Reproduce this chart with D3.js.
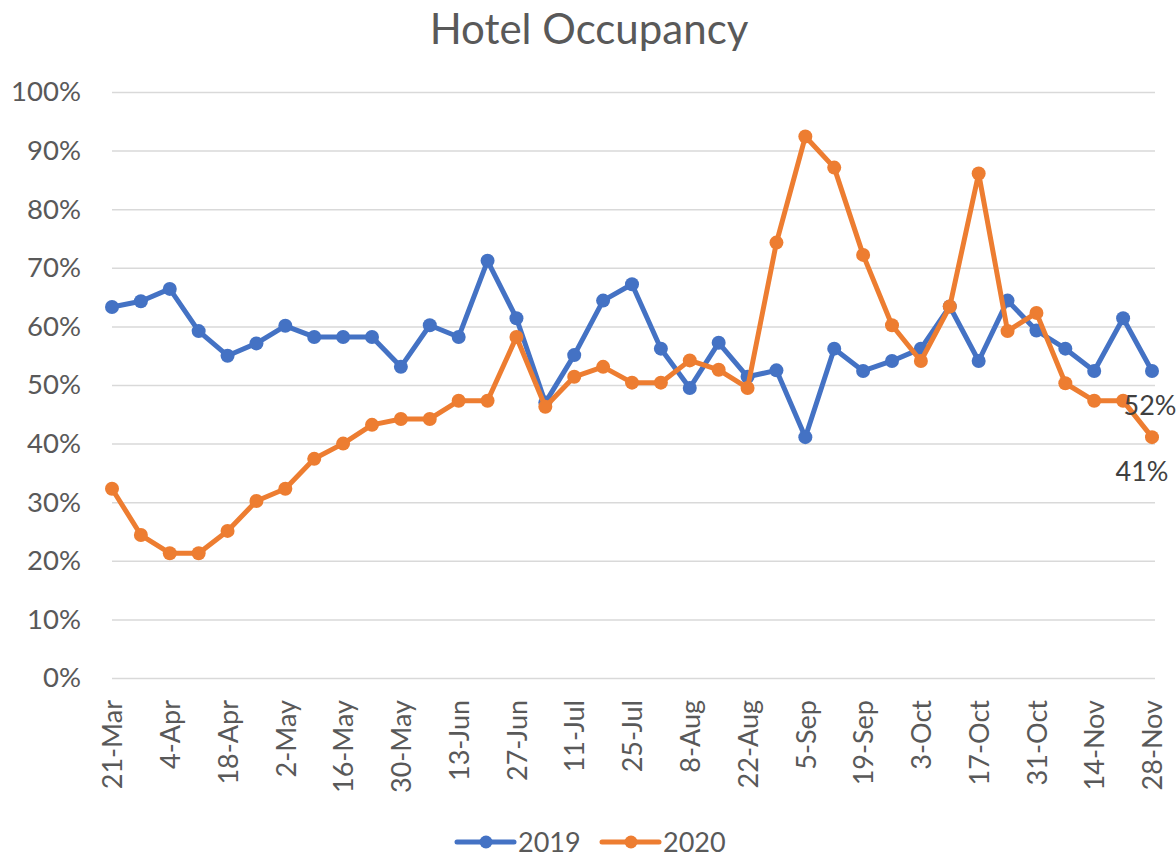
<!DOCTYPE html>
<html>
<head>
<meta charset="utf-8">
<script src="https://cdn.jsdelivr.net/npm/d3@7"></script>
<style>
  html, body { margin: 0; padding: 0; background: #fff; }
  #chart { width: 1176px; height: 857px; }
</style>
</head>
<body>
<div id="chart"></div>
<script>
// weekly dates, 21-Mar .. 28-Nov
const weeks = [
    "21-Mar", "28-Mar", "4-Apr", "11-Apr", "18-Apr", "25-Apr", "2-May", "9-May",
    "16-May", "23-May", "30-May", "6-Jun", "13-Jun", "20-Jun", "27-Jun", "4-Jul",
    "11-Jul", "18-Jul", "25-Jul", "1-Aug", "8-Aug", "15-Aug", "22-Aug", "29-Aug",
    "5-Sep", "12-Sep", "19-Sep", "26-Sep", "3-Oct", "10-Oct", "17-Oct", "24-Oct",
    "31-Oct", "7-Nov", "14-Nov", "21-Nov", "28-Nov"
];

// only every other week gets a label
const xTickLabels = weeks.filter((d, i) => i % 2 === 0);

const yTicks = [0, 0.1, 0.2, 0.3, 0.4, 0.5, 0.6, 0.7, 0.8, 0.9, 1.0];

const occupancy2019 = [
    0.633, 0.643, 0.664, 0.592, 0.550, 0.571, 0.601, 0.582, 0.582, 0.582,
    0.531, 0.602, 0.582, 0.712, 0.614, 0.470, 0.551, 0.644, 0.672, 0.562,
    0.495, 0.572, 0.514, 0.525, 0.411, 0.562, 0.524, 0.541, 0.562, 0.634,
    0.541, 0.644, 0.593, 0.562, 0.524, 0.614, 0.524
];

const occupancy2020 = [
    0.323, 0.244, 0.213, 0.213, 0.251, 0.302, 0.323, 0.374, 0.400, 0.432,
    0.442, 0.442, 0.473, 0.473, 0.582, 0.463, 0.514, 0.531, 0.504, 0.504,
    0.542, 0.526, 0.495, 0.743, 0.924, 0.871, 0.722, 0.602, 0.541, 0.634,
    0.861, 0.592, 0.623, 0.503, 0.473, 0.473, 0.411
];

const seriesNames = ["2019", "2020"];
const seriesColors = ["#4472C4", "#ED7D31"];

const FONT = "Lato, 'Open Sans', sans-serif";
const TEXT_COLOR = "#595959";

const width = 1176;
const height = 857;
const margin = { top: 92, right: 24, bottom: 179, left: 112 };

const svg = d3.select("#chart")
    .append("svg")
    .attr("width", width)
    .attr("height", height)
    .attr("font-family", FONT);

const xScale = d3.scalePoint()
    .domain(weeks)
    .range([margin.left, width - margin.right]);

const yScale = d3.scaleLinear()
    .domain([0, 1])
    .range([height - margin.bottom, margin.top]);

// title
svg.append("text")
    .attr("x", 589)
    .attr("y", 44)
    .attr("text-anchor", "middle")
    .attr("font-size", 42)
    .attr("fill", TEXT_COLOR)
    .text("Hotel Occupancy");

// y axis + gridlines
const yAxis = svg.append("g")
    .attr("transform", `translate(${margin.left},0)`)
    .call(d3.axisLeft(yScale)
        .tickValues(yTicks)
        .tickSize(-(width - margin.left - margin.right + 3))
        .tickPadding(31)
        .tickFormat(d3.format(".0%")));
yAxis.select(".domain").remove();
yAxis.selectAll("line")
    .attr("stroke", "#D9D9D9")
    .attr("stroke-width", 1.5);
yAxis.selectAll("text")
    .attr("font-family", FONT)
    .attr("font-size", 27.5)
    .attr("fill", TEXT_COLOR);

// x axis labels
const xAxis = svg.append("g")
    .attr("transform", `translate(0,${height - margin.bottom})`)
    .call(d3.axisBottom(xScale)
        .tickValues(xTickLabels)
        .tickSize(0)
        .tickPadding(0));
xAxis.select(".domain").remove();
xAxis.selectAll("text")
    .attr("font-family", FONT)
    .attr("font-size", 27)
    .attr("fill", TEXT_COLOR)
    .attr("text-anchor", "end")
    .attr("transform", "rotate(-90)")
    .attr("x", -22)
    .attr("y", 0)
    .attr("dy", "0.36em");

// lines
const line = d3.line()
    .x((d, i) => xScale(weeks[i]))
    .y(d => yScale(d));

[occupancy2019, occupancy2020].forEach((values, k) => {
    const g = svg.append("g");
    g.append("path")
        .datum(values)
        .attr("fill", "none")
        .attr("stroke", seriesColors[k])
        .attr("stroke-width", 5)
        .attr("stroke-linejoin", "round")
        .attr("stroke-linecap", "round")
        .attr("d", line);
    g.selectAll("circle")
        .data(values)
        .join("circle")
        .attr("cx", (d, i) => xScale(weeks[i]))
        .attr("cy", d => yScale(d))
        .attr("r", 7)
        .attr("fill", seriesColors[k]);
});

// data labels for the last week
const last = weeks.length - 1;
const lastLabels = [
    { value: occupancy2019[last], shift: -2 },
    { value: occupancy2020[last], shift: -10 }
];
svg.append("g")
    .selectAll("text")
    .data(lastLabels)
    .join("text")
    .attr("x", d => xScale(weeks[last]) + d.shift)
    .attr("y", d => yScale(d.value) + 34)
    .attr("dy", "0.36em")
    .attr("text-anchor", "middle")
    .attr("font-size", 27)
    .attr("fill", "#404040")
    .text(d => d3.format(".0%")(d.value));

// legend
const legendX = [457, 602];
const legend = svg.append("g")
    .attr("transform", "translate(0,842)");
seriesNames.forEach((name, k) => {
    const item = legend.append("g")
        .attr("transform", `translate(${legendX[k]},0)`);
    item.append("line")
        .attr("x1", 0)
        .attr("x2", 57)
        .attr("stroke", seriesColors[k])
        .attr("stroke-width", 5)
        .attr("stroke-linecap", "round");
    item.append("circle")
        .attr("cx", 29)
        .attr("r", 6.5)
        .attr("fill", seriesColors[k]);
    item.append("text")
        .attr("x", 61)
        .attr("dy", "0.36em")
        .attr("font-size", 27)
        .attr("fill", TEXT_COLOR)
        .text(name);
});
</script>
</body>
</html>
